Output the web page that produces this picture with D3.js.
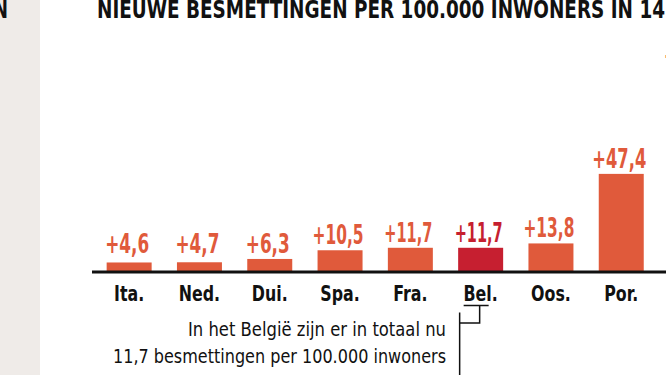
<!DOCTYPE html>
<html>
<head>
<meta charset="utf-8">
<script src="https://cdn.jsdelivr.net/npm/d3@7"></script>
<style>
  html, body { margin: 0; padding: 0; background: #fff; }
  svg { display: block; }
  .cond { font-family: "DejaVu Sans", sans-serif; }
</style>
</head>
<body>
<div id="chart"></div>
<script>
// Chart data
const countries = ["Ita.", "Ned.", "Dui.", "Spa.", "Fra.", "Bel.", "Oos.", "Por.", "Zwe."];
const values = [4.6, 4.7, 6.3, 10.5, 11.7, 11.7, 13.8, 47.4, 97.1];
const highlight = "Bel.";
const titleText = "NIEUWE BESMETTINGEN PER 100.000 INWONERS IN 14";
const noteLines = ["In het België zijn er in totaal nu", "11,7 besmettingen per 100.000 inwoners"];

const width = 666, height = 375;
const baseY = 272;

const orange = "#e05a3b", red = "#c61f30";

// squeeze a text horizontally, like the condensed face of the original
function condense(sel, factor) {
    sel.each(function() {
        const len = this.getComputedTextLength();
        d3.select(this)
            .attr("textLength", len * factor)
            .attr("lengthAdjust", "spacingAndGlyphs");
    });
}

// rough width of a value label in the original face (narrow "1")
const labelWidth = s => 24 + s.replace(/[^0-9]/g, "").split("").reduce((a, c) => a + (c === "1" ? 7 : 10), 0);

const svg = d3.select("#chart").append("svg")
    .attr("width", width)
    .attr("height", height);

// Neighbour panel on the left
svg.append("rect")
    .attr("x", 0).attr("y", 0)
    .attr("width", 40).attr("height", height)
    .attr("fill", "#efebe8");
svg.append("text")
    .attr("class", "cond")
    .attr("x", 8).attr("y", 17.5)
    .attr("text-anchor", "end")
    .style("font-size", "24px").style("font-weight", "bold")
    .attr("fill", "#111")
    .text("N")
    .call(condense, 0.72);

// Title
svg.append("text")
    .attr("class", "cond")
    .attr("x", 97).attr("y", 17.5)
    .attr("textLength", 568)
    .attr("lengthAdjust", "spacingAndGlyphs")
    .style("font-size", "24px").style("font-weight", "bold")
    .attr("fill", "#111")
    .text(titleText);

// Scales
const x = d3.scaleBand()
    .domain(countries)
    .range([94, 94 + 70.3 * countries.length])
    .paddingInner(0.36)
    .paddingOuter(0.18);

const y = d3.scaleLinear()
    .domain([0, 50])
    .range([baseY, baseY - 50 * 2.07]);

const data = countries.map((c, i) => ({ country: c, value: values[i] }));

// Bars
svg.selectAll(".bar")
    .data(data)
    .join("rect")
    .attr("class", "bar")
    .attr("x", d => x(d.country))
    .attr("y", d => y(d.value))
    .attr("width", x.bandwidth())
    .attr("height", d => baseY - y(d.value))
    .attr("fill", d => d.country === highlight ? red : orange);

// Value labels
svg.selectAll(".val")
    .data(data)
    .join("text")
    .attr("class", "val cond")
    .attr("x", d => x(d.country) + x.bandwidth() / 2 - 2)
    .attr("y", d => Math.min(y(d.value) - 6, 253))
    .attr("text-anchor", "middle")
    .style("font-size", "26px").style("font-weight", "bold")
    .attr("fill", d => d.country === highlight ? red : orange)
    .text(d => "+" + d3.format(".1f")(d.value).replace(".", ","))
    .attr("textLength", function() { return labelWidth(this.textContent); })
    .attr("lengthAdjust", "spacingAndGlyphs");

// Axis line
svg.append("line")
    .attr("x1", 92).attr("x2", width)
    .attr("y1", baseY).attr("y2", baseY)
    .attr("stroke", "#111")
    .attr("stroke-width", 3);

// Category labels
svg.selectAll(".cat")
    .data(data)
    .join("text")
    .attr("class", "cat cond")
    .attr("x", d => x(d.country) + x.bandwidth() / 2)
    .attr("y", 301)
    .attr("text-anchor", "middle")
    .style("font-size", "22px").style("font-weight", "bold")
    .attr("fill", "#111")
    .text(d => d.country)
    .call(condense, 0.72);

// Annotation bracket under Belgium
const bx = x(highlight) + x.bandwidth() / 2;
const bracket = d3.path();
bracket.moveTo(bx - 17, 305.5); bracket.lineTo(bx + 8, 305.5);
bracket.moveTo(bx - 1, 305.5); bracket.lineTo(bx - 1, 323);
bracket.lineTo(bx - 21, 323);
bracket.moveTo(bx - 21, 312.5); bracket.lineTo(bx - 21, height);
svg.append("path")
    .attr("d", bracket.toString())
    .attr("fill", "none")
    .attr("stroke", "#111")
    .attr("stroke-width", 1.5);

// Annotation text
const noteWidths = [258, 333];
svg.selectAll(".note")
    .data(noteLines)
    .join("text")
    .attr("class", "note cond")
    .attr("x", 446)
    .attr("y", (d, i) => 336 + i * 27)
    .attr("text-anchor", "end")
    .attr("textLength", (d, i) => noteWidths[i])
    .attr("lengthAdjust", "spacingAndGlyphs")
    .style("font-size", "20px")
    .attr("fill", "#111")
    .text(d => d);
</script>
</body>
</html>
